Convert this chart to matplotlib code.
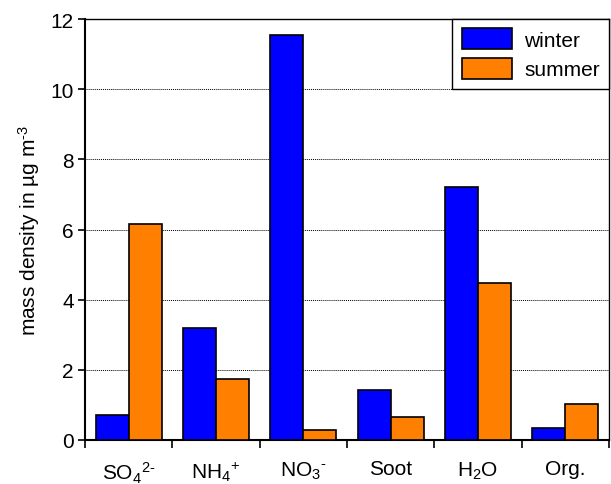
import matplotlib
matplotlib.use("Agg")
import matplotlib.pyplot as plt
import numpy as np

categories = [r"$\mathregular{SO_4{}^{2\text{-}}}$", r"$\mathregular{NH_4{}^{+}}$", r"$\mathregular{NO_3{}^{\text{-}}}$",
              "Soot", r"$\mathregular{H_2O}$", "Org."]
winter = [0.70, 3.20, 11.55, 1.42, 7.20, 0.33]
summer = [6.15, 1.75, 0.28, 0.65, 4.48, 1.02]
yticks = [0, 2, 4, 6, 8, 10, 12]

plt.rcParams['font.family'] = ['Liberation Sans', 'DejaVu Sans']
plt.rcParams['mathtext.fontset'] = 'custom'
plt.rcParams['mathtext.rm'] = 'Liberation Sans'
plt.rcParams['mathtext.it'] = 'Liberation Sans'

fig = plt.figure(figsize=(6.11, 4.85), dpi=100)
ax = fig.add_axes([85/611, 1-441/485, 524/611, 421/485])

x = np.arange(len(categories))
w = 0.377
ax.bar(x - w/2, winter, w, color='#0000ff', edgecolor='black', linewidth=1.2, label='winter', zorder=3)
ax.bar(x + w/2, summer, w, color='#ff8000', edgecolor='black', linewidth=1.2, label='summer', zorder=3)

ax.set_xlim(-0.5, len(categories) - 0.5)
ax.set_ylim(0, 12)
ax.set_yticks(yticks)
ax.set_yticklabels([str(t) for t in yticks], fontsize=15)
ax.set_xticks(np.arange(len(categories) + 1) - 0.5)
ax.set_xticklabels([])
ax.set_xticks(x, minor=True)
ax.set_xticklabels(categories, minor=True, fontsize=15)
ax.tick_params(axis='x', which='minor', length=0, pad=14)
ax.tick_params(axis='x', which='major', length=6, width=1.2, direction='out')
ax.tick_params(axis='y', length=5, width=1.2, direction='out', pad=3)
ax.yaxis.grid(True, linestyle=(0, (1, 1)), color='black', linewidth=0.7, zorder=0)
ax.set_axisbelow(True)
for s in ax.spines.values():
    s.set_linewidth(1.0)
ax.spines['left'].set_linewidth(1.5)
ax.spines['bottom'].set_linewidth(1.5)

ax.set_ylabel(r"mass density in µg m$^{\mathregular{\text{-}3}}$", fontsize=15, labelpad=6)

leg = ax.legend(loc='upper right', fontsize=15, frameon=True, fancybox=False,
                edgecolor='black', framealpha=1, borderaxespad=0,
                handlelength=2.4, handleheight=1.15, labelspacing=0.4, borderpad=0.45,
                handletextpad=0.6)
leg.get_frame().set_linewidth(1.0)

fig.savefig("out.png", dpi=100)
